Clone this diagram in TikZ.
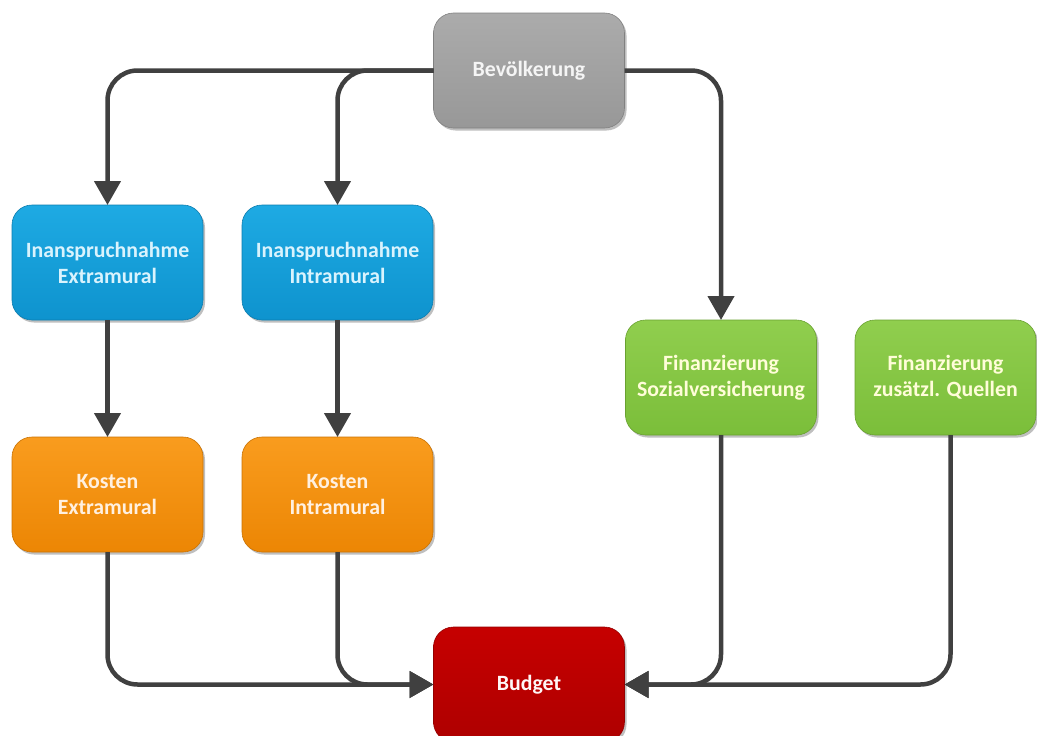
\documentclass[tikz,border=0pt]{standalone}
\usepackage{fontspec}
\setmainfont{Carlito}
\usetikzlibrary{arrows.meta,shadows}
\definecolor{conncol}{HTML}{404040}
\definecolor{grayT}{HTML}{ABABAB}
\definecolor{grayB}{HTML}{989898}
\definecolor{blueT}{HTML}{1EAAE3}
\definecolor{blueB}{HTML}{0E93CE}
\definecolor{orangeT}{HTML}{F99C1E}
\definecolor{orangeB}{HTML}{EC8604}
\definecolor{greenT}{HTML}{90CE4E}
\definecolor{greenB}{HTML}{7BBE3A}
\definecolor{redT}{HTML}{C60000}
\definecolor{redB}{HTML}{AE0000}
\tikzset{
  box/.style={rounded corners=20pt, minimum width=191pt, minimum height=115pt,
    align=center, inner sep=0pt, outer sep=0pt,
    font=\fontsize{21.8}{26}\selectfont\bfseries,
    drop shadow={shadow xshift=2pt, shadow yshift=-2.5pt, opacity=0.25, fill=black}},
  graybox/.style={box, top color=grayT, bottom color=grayB, draw=grayB!85!black, line width=0.6pt, text=white!92!gray},
  bluebox/.style={box, top color=blueT, bottom color=blueB, draw=blueB!85!black, line width=0.6pt, text=white!85!cyan},
  orangebox/.style={box, top color=orangeT, bottom color=orangeB, draw=orangeB!85!black, line width=0.6pt, text=white!88!orange},
  greenbox/.style={box, top color=greenT, bottom color=greenB, draw=greenB!85!black, line width=0.6pt, text=white!85!yellow},
  redbox/.style={box, top color=redT, bottom color=redB, draw=redB!85!black, line width=0.6pt, text=white!88!pink},
  conn/.style={draw=conncol, line width=4.5pt, rounded corners=30pt,
    -{Triangle[length=24pt,width=26pt]}}
}
\begin{document}
\begin{tikzpicture}[x=1pt,y=-1pt]
\useasboundingbox (0,0) rectangle (1037,736);
\node[graybox]   (bev) at (529,70.5)   {Bevölkerung};
\node[bluebox]   (b1)  at (107.5,262.5) {Inanspruchnahme\\Extramural};
\node[bluebox]   (b2)  at (337.5,262.5) {Inanspruchnahme\\Intramural};
\node[orangebox] (o1)  at (107.5,494.5) {Kosten\\Extramural};
\node[orangebox] (o2)  at (337.5,494.5) {Kosten\\Intramural};
\node[greenbox]  (g1)  at (721,377.5)   {Finanzierung\\Sozialversicherung};
\node[greenbox, minimum width=181pt] (g2) at (945.5,377.5) {Finanzierung\\zusätzl. Quellen};
\node[redbox]    (bud) at (529,684.5)   {Budget};

\draw[conn] (bev.west) -| (b1.north);
\draw[conn] (bev.west) -| (b2.north);
\draw[conn] (bev.east) -| (g1.north);
\draw[conn] (b1) -- (o1);
\draw[conn] (b2) -- (o2);
\draw[conn] (o1.south) |- (bud.west);
\draw[conn] (o2.south) |- (bud.west);
\draw[conn] (g1.south) |- (bud.east);
\draw[conn] ([xshift=5pt]g2.south) |- (bud.east);
\end{tikzpicture}
\end{document}
